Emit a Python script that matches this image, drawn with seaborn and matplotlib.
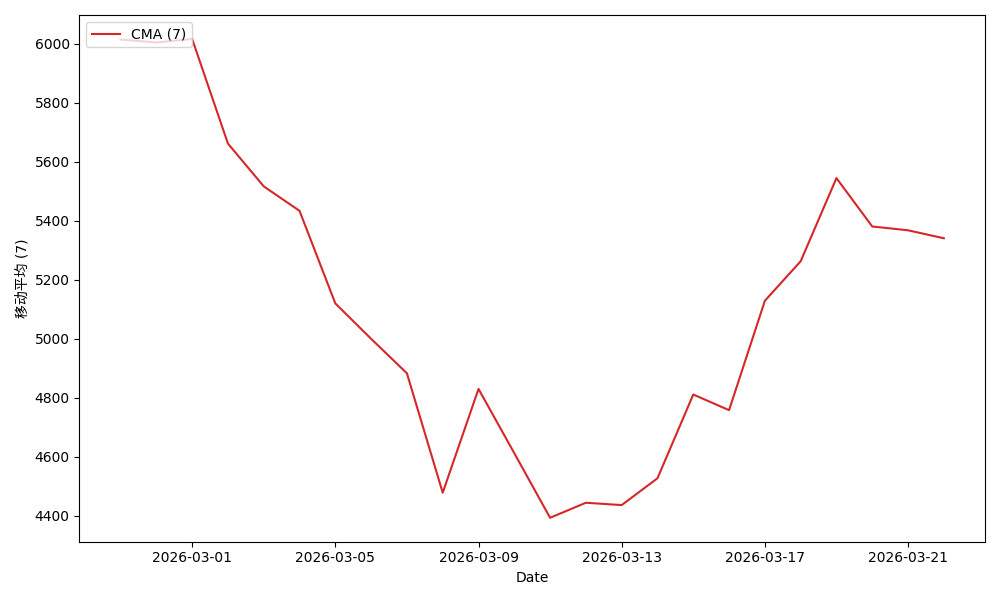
import pandas as pd
import matplotlib.pyplot as plt
import seaborn as sns

# =========================
# 1. DATA
# =========================
dates = pd.date_range("2026-02-27", "2026-03-22", freq="D")
cma_values = [
    6015, 6005, 6017, 5662, 5517, 5434, 5120, 5000, 4883, 4478,
    4830, 4612, 4393, 4444, 4436, 4527, 4811, 4758, 5129, 5263,
    5545, 5381, 5368, 5341,
]
series_label = "CMA (7)"
y_label = "移动平均 (7)"

df = pd.DataFrame({"date": dates, "cma": cma_values})

# =========================
# 2. PLOT
# =========================
plt.rcParams["font.family"] = ["DejaVu Sans", "Noto Sans CJK SC"]

fig, ax = plt.subplots(figsize=(10, 6), dpi=100)
sns.lineplot(data=df, x="date", y="cma", color="#d62728", label=series_label, ax=ax)

ax.set_xlabel("Date")
ax.set_ylabel(y_label)
ax.legend(loc="upper left")

plt.tight_layout()
plt.savefig("out.png", dpi=100)
